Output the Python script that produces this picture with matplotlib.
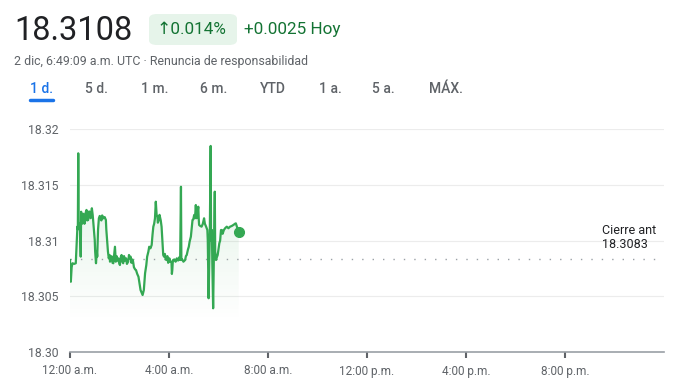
import numpy as np
import matplotlib.pyplot as plt
from matplotlib.patches import FancyBboxPatch
from matplotlib.colors import LinearSegmentedColormap

# intraday quotes: minutes after midnight (UTC) and price
minutes = [0, 2, 4, 6, 10, 14, 16, 18, 19, 20, 21, 22, 24, 26, 27, 29, 31, 32,
           34, 35, 37, 38, 40, 42, 44, 46, 48, 50, 53, 55, 56, 58, 60, 61, 63,
           65, 66, 68, 70, 72, 74, 76, 78, 81, 84, 87, 88, 90, 92, 94, 96, 97,
           99, 102, 103, 105, 107, 109, 110, 111, 113, 115, 117, 119, 121, 123,
           125, 127, 129, 131, 133, 136, 138, 141, 143, 145, 147, 149, 151, 153,
           155, 158, 160, 163, 166, 169, 171, 174, 176, 178, 179, 181, 182, 185,
           187, 190, 192, 195, 198, 200, 202, 204, 206, 207, 208, 209, 210, 212,
           213, 215, 217, 218, 220, 222, 224, 226, 228, 230, 232, 234, 236, 238,
           241, 243, 246, 247, 248, 249, 250, 253, 256, 259, 262, 265, 267, 269,
           270, 272, 275, 279, 281, 283, 286, 288, 290, 293, 295, 297, 299, 301,
           303, 305, 307, 309, 311, 312, 313, 316, 319, 322, 325, 327, 330, 333,
           334, 336, 338, 339, 341, 342, 344, 345, 347, 349, 351, 352, 354, 356,
           358, 360, 362, 364, 366, 368, 370, 373, 376, 380, 384, 388, 392, 396,
           400, 402, 405, 409]
prices = [18.30825, 18.30630, 18.30760, 18.30796, 18.30790, 18.30796, 18.30950,
          18.31124, 18.31100, 18.31782, 18.31150, 18.31124, 18.31150, 18.30855,
          18.31258, 18.31150, 18.31169, 18.31240, 18.31229, 18.31150, 18.31184,
          18.31250, 18.31274, 18.31180, 18.31184, 18.31260, 18.31258, 18.31200,
          18.31289, 18.31230, 18.31184, 18.31100, 18.31004, 18.30900, 18.30796,
          18.30900, 18.30855, 18.31100, 18.31199, 18.31220, 18.31213, 18.31180,
          18.31225, 18.31199, 18.31210, 18.31184, 18.31100, 18.31004, 18.30900,
          18.30840, 18.30870, 18.30810, 18.30860, 18.30855, 18.30800, 18.30796,
          18.30870, 18.30944, 18.30880, 18.30810, 18.30860, 18.30820, 18.30840,
          18.30800, 18.30780, 18.30850, 18.30870, 18.30810, 18.30796, 18.30860,
          18.30820, 18.30840, 18.30790, 18.30810, 18.30870, 18.30840, 18.30855,
          18.30800, 18.30830, 18.30810, 18.30760, 18.30740, 18.30735, 18.30700,
          18.30675, 18.30600, 18.30556, 18.30530, 18.30511, 18.30540, 18.30556,
          18.30650, 18.30706, 18.30780, 18.30855, 18.30900, 18.30944, 18.30930,
          18.30960, 18.31050, 18.31124, 18.31150, 18.31199, 18.31280, 18.31348,
          18.31280, 18.31230, 18.31213, 18.31160, 18.31184, 18.31230, 18.31213,
          18.31180, 18.31124, 18.31000, 18.30870, 18.30855, 18.30880, 18.30830,
          18.30825, 18.30860, 18.30800, 18.30840, 18.30810, 18.30810, 18.30700,
          18.30735, 18.30800, 18.30825, 18.30830, 18.30810, 18.30840, 18.30820,
          18.30850, 18.30825, 18.31482, 18.30825, 18.30830, 18.30810, 18.30825,
          18.30860, 18.30870, 18.30920, 18.30944, 18.30990, 18.31034, 18.31110,
          18.31184, 18.31190, 18.31229, 18.31200, 18.31318, 18.31200, 18.31244,
          18.31303, 18.31200, 18.31139, 18.31130, 18.31124, 18.31150, 18.31199,
          18.31150, 18.31124, 18.31094, 18.31000, 18.30482, 18.30900, 18.31094,
          18.31848, 18.31000, 18.31094, 18.30800, 18.30392, 18.30900, 18.31438,
          18.30900, 18.30825, 18.30850, 18.30870, 18.30920, 18.30975, 18.31000,
          18.31094, 18.31094, 18.31060, 18.31094, 18.31110, 18.31124, 18.31110,
          18.31124, 18.31130, 18.31139, 18.31150, 18.31154, 18.31120, 18.3108]
prev_close = 18.3083
y_ticks = [18.30, 18.305, 18.31, 18.315, 18.32]
y_tick_labels = ["18.30", "18.305", "18.31", "18.315", "18.32"]
x_ticks_h = [0, 4, 8, 12, 16, 20]
x_tick_labels = ["12:00 a.m.", "4:00 a.m.", "8:00 a.m.", "12:00 p.m.", "4:00 p.m.", "8:00 p.m."]
tabs = ["1 d.", "5 d.", "1 m.", "6 m.", "YTD", "1 a.", "5 a.", "MÁX."]

plt.rcParams['font.family'] = ['Roboto', 'DejaVu Sans']

green = '#34a853'
dark_green = '#137333'
grey_txt = '#5f6368'

fig = plt.figure(figsize=(6.91, 3.90), dpi=100)
ax = fig.add_axes([70 / 691, 38 / 390, 594 / 691, 223 / 390])

hours = np.array(minutes) / 60.0
vals = np.array(prices)

ax.set_xlim(0, 24)
ax.set_ylim(18.30, 18.32)

# gradient fill under the line
cmap = LinearSegmentedColormap.from_list('g', [(0.204, 0.659, 0.325, 0.0),
                                               (0.204, 0.659, 0.325, 0.17)])
grad = np.linspace(0, 1, 100).reshape(-1, 1)
img = ax.imshow(grad, aspect='auto', cmap=cmap, origin='lower',
                extent=[0, hours[-1], 18.3027, 18.3185], zorder=1)
poly = ax.fill_between(hours, vals, 18.3027, color='none', lw=0)
img.set_clip_path(poly.get_paths()[0], transform=ax.transData)

ax.plot(hours, vals, color=green, lw=1.6, zorder=3)
ax.plot(hours[-1], vals[-1], 'o', color=green, ms=7, zorder=4)

# previous close dotted line
ax.plot([0, 23.75], [prev_close, prev_close], color='#9aa0a6', lw=1,
        linestyle=(0, (1, 6.5)), zorder=2)
ax.text(21.5, prev_close + 0.0008, "Cierre ant\n18.3083", fontsize=9,
        color='#202124', va='bottom', ha='left', linespacing=1.1)

for yv in y_ticks[1:]:
    ax.axhline(yv, color='#ececec', lw=0.8, zorder=0)

for s in ['top', 'right', 'left']:
    ax.spines[s].set_visible(False)
ax.spines['bottom'].set_color('#9aa0a6')
ax.spines['bottom'].set_linewidth(1.2)

ax.set_yticks(y_ticks)
ax.set_yticklabels(y_tick_labels)
ax.set_xticks(x_ticks_h)
ax.set_xticklabels(x_tick_labels)
ax.tick_params(axis='y', length=0, pad=8, labelsize=8.8, labelcolor=grey_txt)
ax.tick_params(axis='x', length=4, width=1.5, color='#5f6368', pad=5,
               labelsize=8.5, labelcolor=grey_txt)

# header
fig.text(14 / 691, 1 - 31 / 390, "18.3108", fontsize=23.5, color='#202124',
         va='center', ha='left')
badge = FancyBboxPatch((149 / 691, 1 - 45 / 390), 88 / 691, 31 / 390,
                       boxstyle='round,pad=0,rounding_size=0.012',
                       transform=fig.transFigure, fc='#e6f4ea', ec='none')
fig.patches.append(badge)
fig.text(157 / 691, 1 - 29.5 / 390, "↑0.014%", fontsize=12.3, color=dark_green,
         va='center', ha='left')
fig.text(244 / 691, 1 - 29.5 / 390, "+0.0025 Hoy", fontsize=12.3,
         color=dark_green, va='center', ha='left')
fig.text(14 / 691, 1 - 61 / 390,
         "2 dic, 6:49:09 a.m. UTC · Renuncia de responsabilidad",
         fontsize=8.9, color=grey_txt, va='center', ha='left')

tab_x = [30, 85, 141, 200, 260, 319, 372, 429]
for i, (lbl, tx) in enumerate(zip(tabs, tab_x)):
    fig.text(tx / 691, 1 - 89 / 390, lbl, fontsize=10,
             color='#1a73e8' if i == 0 else grey_txt, weight='medium',
             va='center', ha='left')
fig.add_artist(plt.Line2D([30 / 691, 53 / 691], [1 - 100 / 390, 1 - 100 / 390],
                          color='#1a73e8', lw=2.5, solid_capstyle='round'))

fig.savefig('out.png', dpi=100)
